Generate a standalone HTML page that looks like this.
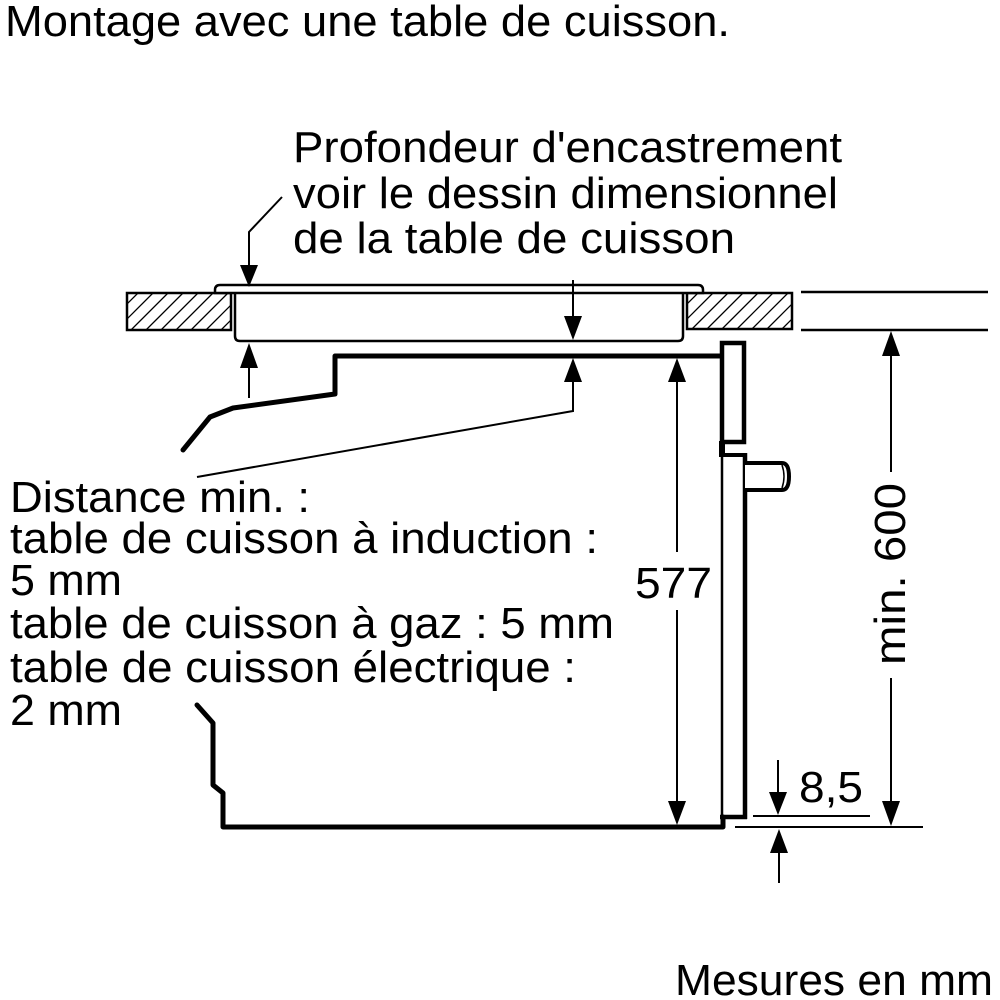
<!DOCTYPE html>
<html>
<head>
<meta charset="utf-8">
<style>
  html,body{margin:0;padding:0;background:#fff;}
  svg{display:block;}
  text{font-family:"Liberation Sans", Arial, sans-serif; font-size:44px; fill:#000;}
</style>
</head>
<body>
<svg width="1000" height="1000" viewBox="0 0 1000 1000" xmlns="http://www.w3.org/2000/svg">
  <defs>
    <clipPath id="cl"><rect x="127" y="293" width="104" height="37"/></clipPath>
    <clipPath id="cr"><rect x="687" y="293" width="105" height="36"/></clipPath>
  </defs>

  <!-- Texts -->
  <text x="5" y="36" textLength="725" lengthAdjust="spacingAndGlyphs">Montage avec une table de cuisson.</text>

  <text x="293" y="162" textLength="549" lengthAdjust="spacingAndGlyphs">Profondeur d'encastrement</text>
  <text x="293" y="208" textLength="545" lengthAdjust="spacingAndGlyphs">voir le dessin dimensionnel</text>
  <text x="293" y="253" textLength="442" lengthAdjust="spacingAndGlyphs">de la table de cuisson</text>

  <text x="10" y="512" textLength="300" lengthAdjust="spacingAndGlyphs">Distance min. :</text>
  <text x="10" y="553" textLength="588" lengthAdjust="spacingAndGlyphs">table de cuisson à induction :</text>
  <text x="10" y="595" textLength="112" lengthAdjust="spacingAndGlyphs">5 mm</text>
  <text x="10" y="638" textLength="604" lengthAdjust="spacingAndGlyphs">table de cuisson à gaz : 5 mm</text>
  <text x="10" y="682" textLength="566" lengthAdjust="spacingAndGlyphs">table de cuisson électrique :</text>
  <text x="10" y="725" textLength="112" lengthAdjust="spacingAndGlyphs">2 mm</text>

  <text x="635" y="598" textLength="77" lengthAdjust="spacingAndGlyphs">577</text>
  <text x="799" y="802" textLength="64" lengthAdjust="spacingAndGlyphs">8,5</text>
  <text transform="translate(905,665) rotate(-90)" x="0" y="0" textLength="182" lengthAdjust="spacingAndGlyphs">min. 600</text>
  <text x="675" y="995" textLength="318" lengthAdjust="spacingAndGlyphs">Mesures en mm</text>

  <!-- Countertop hatched blocks -->
  <g clip-path="url(#cl)" stroke="#000" stroke-width="1.3">
    <line x1="86" y1="330" x2="123" y2="293"/>
    <line x1="101" y1="330" x2="138" y2="293"/>
    <line x1="116" y1="330" x2="153" y2="293"/>
    <line x1="131" y1="330" x2="168" y2="293"/>
    <line x1="146" y1="330" x2="183" y2="293"/>
    <line x1="161" y1="330" x2="198" y2="293"/>
    <line x1="176" y1="330" x2="213" y2="293"/>
    <line x1="191" y1="330" x2="228" y2="293"/>
    <line x1="206" y1="330" x2="243" y2="293"/>
    <line x1="221" y1="330" x2="258" y2="293"/>
  </g>
  <rect x="127" y="293" width="104" height="37" fill="none" stroke="#000" stroke-width="2.5"/>
  <g clip-path="url(#cr)" stroke="#000" stroke-width="1.3">
    <line x1="647" y1="329" x2="683" y2="293"/>
    <line x1="662" y1="329" x2="698" y2="293"/>
    <line x1="677" y1="329" x2="713" y2="293"/>
    <line x1="692" y1="329" x2="728" y2="293"/>
    <line x1="707" y1="329" x2="743" y2="293"/>
    <line x1="722" y1="329" x2="758" y2="293"/>
    <line x1="737" y1="329" x2="773" y2="293"/>
    <line x1="752" y1="329" x2="788" y2="293"/>
    <line x1="767" y1="329" x2="803" y2="293"/>
    <line x1="782" y1="329" x2="818" y2="293"/>
  </g>
  <rect x="687" y="293" width="105" height="36" fill="none" stroke="#000" stroke-width="2.5"/>

  <!-- Right side countertop lines -->
  <line x1="801" y1="292" x2="988" y2="292" stroke="#000" stroke-width="2.5"/>
  <line x1="801" y1="330" x2="988" y2="330" stroke="#000" stroke-width="2.5"/>

  <!-- Hob plate -->
  <path d="M215,293 L215,290 Q215,285 220,285 L698,285 Q703,285 703,290 L703,293 Z" fill="#fff" stroke="#000" stroke-width="2.5"/>
  <!-- Hob body -->
  <path d="M235,293 L235,336 Q235,341 240,341 L678,341 Q683,341 683,336 L683,293" fill="none" stroke="#000" stroke-width="2.5"/>

  <!-- Oven top contour -->
  <polyline points="183,450 210,417 233,408 335,394 335,356 723,356" fill="none" stroke="#000" stroke-width="5" stroke-linejoin="round" stroke-linecap="round"/>

  <!-- Oven front / door -->
  <rect x="722" y="343" width="22" height="99" fill="#fff" stroke="#000" stroke-width="4.5"/>
  <rect x="719" y="441" width="6" height="16" fill="#000"/>
  <line x1="720" y1="455" x2="747" y2="455" stroke="#000" stroke-width="4"/>
  <line x1="745" y1="453" x2="745" y2="819" stroke="#000" stroke-width="4.5"/>
  <line x1="722" y1="455" x2="722" y2="828" stroke="#000" stroke-width="2.5"/>
  <line x1="720" y1="817" x2="747" y2="817" stroke="#000" stroke-width="4.5"/>

  <!-- Knob -->
  <path d="M745,463 L782,463 Q789,463 789,476.5 Q789,490 782,490 L745,490" fill="#fff" stroke="#000" stroke-width="4"/>
  <path d="M782,465 Q786,476.5 782,488" fill="none" stroke="#000" stroke-width="1.5"/>

  <!-- Oven bottom contour -->
  <polyline points="197,705 213,723 213,785 223,793 223,827 723,827 723,817" fill="none" stroke="#000" stroke-width="5" stroke-linejoin="round" stroke-linecap="round"/>

  <!-- Leader: Profondeur -->
  <polyline points="282,197 249,232 249,266" fill="none" stroke="#000" stroke-width="2"/>
  <polygon points="240,265 258,265 249,287" fill="#000"/>

  <!-- Hob depth arrows -->
  <line x1="573" y1="280" x2="573" y2="318" stroke="#000" stroke-width="2"/>
  <polygon points="564,316 582,316 573,340" fill="#000"/>
  <line x1="249" y1="366" x2="249" y2="398" stroke="#000" stroke-width="2"/>
  <polygon points="240,368 258,368 249,343" fill="#000"/>

  <!-- Distance min leader -->
  <polyline points="573,380 573,411 197,477" fill="none" stroke="#000" stroke-width="2"/>
  <polygon points="564,382 582,382 573,358" fill="#000"/>

  <!-- 577 dimension -->
  <line x1="677" y1="380" x2="677" y2="552" stroke="#000" stroke-width="2"/>
  <line x1="677" y1="610" x2="677" y2="803" stroke="#000" stroke-width="2"/>
  <polygon points="668,382 686,382 677,358" fill="#000"/>
  <polygon points="668,801 686,801 677,825" fill="#000"/>

  <!-- min. 600 dimension -->
  <line x1="891" y1="354" x2="891" y2="472" stroke="#000" stroke-width="2"/>
  <line x1="891" y1="678" x2="891" y2="803" stroke="#000" stroke-width="2"/>
  <polygon points="882,356 900,356 891,331" fill="#000"/>
  <polygon points="882,801 900,801 891,826" fill="#000"/>

  <!-- 8,5 dimension -->
  <line x1="753" y1="816" x2="870" y2="816" stroke="#000" stroke-width="2"/>
  <line x1="735" y1="827" x2="923" y2="827" stroke="#000" stroke-width="2"/>
  <line x1="778" y1="760" x2="778" y2="795" stroke="#000" stroke-width="2"/>
  <polygon points="769,792 787,792 778,815" fill="#000"/>
  <line x1="779" y1="851" x2="779" y2="883" stroke="#000" stroke-width="2"/>
  <polygon points="770,853 788,853 779,829" fill="#000"/>
</svg>
</body>
</html>
